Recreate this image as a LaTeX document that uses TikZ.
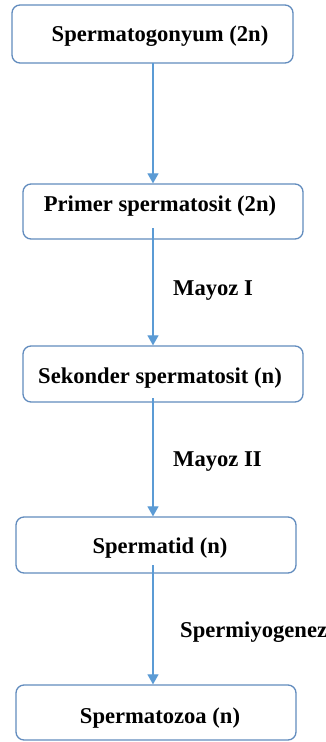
\documentclass[tikz,border=0pt]{standalone}
\usepackage{fontspec}
\setmainfont{Liberation Serif}
\usetikzlibrary{arrows.meta}
\definecolor{boxline}{RGB}{98,140,190}
\definecolor{flowline}{RGB}{91,155,213}
\tikzset{
  stagebox/.style={draw=boxline, line width=1.3pt, rounded corners=8pt, fill=white, inner sep=0pt},
  stagetext/.style={font=\fontsize{22.6}{25}\selectfont\bfseries, inner sep=0pt, anchor=center},
  steptext/.style={font=\fontsize{22.6}{25}\selectfont\bfseries, inner sep=0pt, anchor=west},
  flow/.style={draw=flowline, line width=1.2pt, -{Triangle[length=10pt,width=11pt]}}
}
\begin{document}
\begin{tikzpicture}[x=1pt,y=-1pt]
\useasboundingbox[fill=white] (0,0) rectangle (326,742);
% stage boxes
\node[stagebox, minimum width=281pt, minimum height=58pt] (b1) at (152.5,34) {};
\node[stagebox, minimum width=280pt, minimum height=55pt] (b2) at (163,211.5) {};
\node[stagebox, minimum width=280pt, minimum height=56pt] (b3) at (163,374) {};
\node[stagebox, minimum width=280pt, minimum height=56pt] (b4) at (156,545) {};
\node[stagebox, minimum width=280pt, minimum height=55pt] (b5) at (156,712.5) {};
% stage names
\node[stagetext] (t1) at (160,36) {Spermatogonyum (2n)};
\node[stagetext] (t2) at (160,206) {Primer spermatosit (2n)};
\node[stagetext] (t3) at (160,378) {Sekonder spermatosit (n)};
\node[stagetext] (t4) at (160,548) {Spermatid (n)};
\node[stagetext] (t5) at (160,718) {Spermatozoa (n)};
% connector start points
\coordinate (c1) at (153,63);
\coordinate (c2) at (153,228);
\coordinate (c3) at (153,398);
\coordinate (c4) at (153,565);
% connectors
\draw[flow] (c1) -- (c1 |- b2.north);
\draw[flow] (c2) -- (c2 |- b3.north);
\draw[flow] (c3) -- (c3 |- b4.north);
\draw[flow] (c4) -- (c4 |- b5.north);
% step labels
\node[steptext] (m1) at (173,291) {Mayoz I};
\node[steptext] (m2) at (173,462) {Mayoz II};
\node[steptext] (m3) at (180,632) {Spermiyogenez};
\end{tikzpicture}
\end{document}
